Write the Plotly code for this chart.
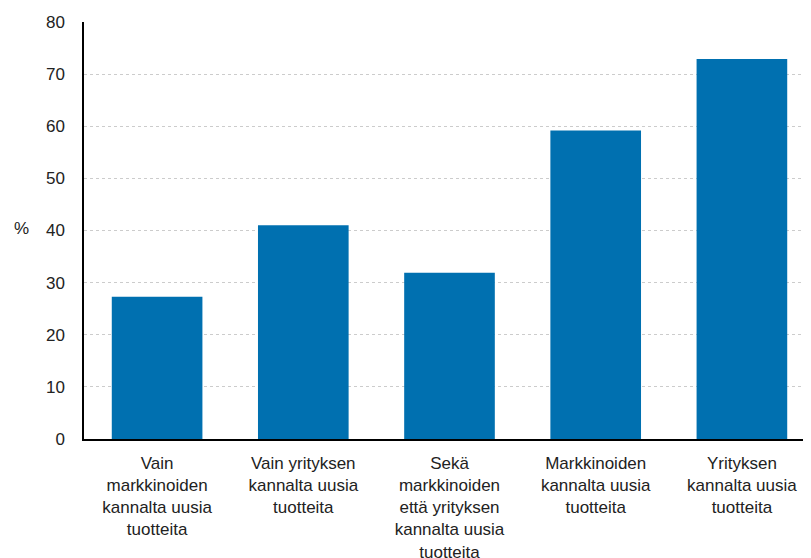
import plotly.graph_objects as go

# Categories and values (%)
categories = [
    "Vain<br>markkinoiden<br>kannalta uusia<br>tuotteita",
    "Vain yrityksen<br>kannalta uusia<br>tuotteita",
    "Sekä<br>markkinoiden<br>että yrityksen<br>kannalta uusia<br>tuotteita",
    "Markkinoiden<br>kannalta uusia<br>tuotteita",
    "Yrityksen<br>kannalta uusia<br>tuotteita",
]
values = [27.3, 41.0, 31.9, 59.2, 72.9]
y_ticks = [0, 10, 20, 30, 40, 50, 60, 70, 80]

bar_color = "#0070b0"
font_family = "Liberation Sans, Arial, sans-serif"

fig = go.Figure()
fig.add_trace(go.Bar(x=categories, y=values, marker=dict(color=bar_color, line=dict(width=0)), width=0.62))

# page body adds 8px offset, so margins are shifted accordingly
fig.update_layout(
    width=811,
    height=558,
    margin=dict(l=76, r=4, t=14, b=125),
    paper_bgcolor="white",
    plot_bgcolor="white",
    showlegend=False,
    font=dict(family=font_family, size=17, color="#222222"),
)
fig.update_xaxes(
    range=[-0.5, 4.5],
    showline=True, linecolor="black", linewidth=1.5,
    showgrid=False, ticks="", tickangle=0,
    tickfont=dict(size=17), ticklabelstandoff=8,
)
fig.update_yaxes(
    range=[0, 80], tickvals=y_ticks,
    showline=True, linecolor="black", linewidth=1.5,
    showgrid=True, gridcolor="#cccccc", griddash="dot", gridwidth=1,
    zeroline=False, ticks="", ticklabelstandoff=14,
    tickfont=dict(size=17),
)
fig.add_annotation(
    text="%", xref="paper", yref="paper", x=-0.0985, y=0.504,
    showarrow=False, xanchor="left", yanchor="middle", font=dict(size=17),
)

fig.write_html("out.html")
